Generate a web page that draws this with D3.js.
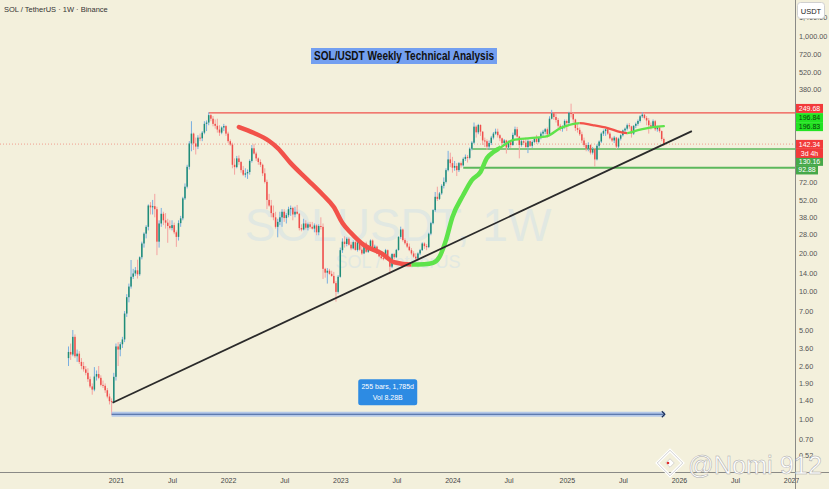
<!DOCTYPE html>
<html>
<head>
<meta charset="utf-8">
<script src="https://cdnjs.cloudflare.com/ajax/libs/d3/7.8.5/d3.min.js"></script>
<style>
  body { margin:0; background:#f3f0dc; }
  svg { display:block; font-family:"Liberation Sans", Arial, sans-serif; }
</style>
</head>
<body>
<svg id="chart" width="829" height="489"></svg>
<script>
// weekly candles [open, high, low, close], first bar is the week of 2020-08-03
const firstWeek = "2020-08-03";

const ohlc2020 = [
  [3.0,3.7,2.6,3.35],[3.35,3.9,2.9,3.2],[3.2,4.98,3.1,4.4],[4.4,4.6,3.0,3.1],[3.1,3.5,2.8,3.25],
  [3.25,3.4,2.7,2.8],[2.8,3.0,2.45,2.6],[2.6,2.8,2.35,2.45],[2.45,2.6,2.2,2.3],[2.3,2.5,1.95,2.05],
  [2.05,2.15,1.75,1.8],[1.8,1.9,1.55,1.7],[1.7,2.55,1.65,2.15],[2.15,2.4,2.0,2.25],[2.25,2.6,2.05,2.1],
  [2.1,2.2,1.8,1.85],[1.85,2.0,1.75,1.82],[1.82,1.9,1.6,1.68],[1.68,1.75,1.45,1.5],[1.5,1.58,1.3,1.38],
  [1.38,1.45,1.07,1.36],[1.36,2.3,1.33,2.14]
];
const ohlc2021 = [
  [2.14,3.9,2.0,3.7],[3.7,4.0,2.6,3.5],[3.5,4.0,3.1,3.85],[3.85,4.4,3.6,4.2],[4.2,7.0,4.0,6.7],
  [6.7,9.5,6.3,9.0],[9.0,11.5,8.2,10.9],[10.9,17.6,10.5,13.0],[13.0,15.0,12.5,13.8],[13.8,15.5,13.2,14.6],
  [14.6,17.7,12.6,13.6],[13.6,18.8,13.2,18.5],[18.5,24.5,17.8,23.7],[23.7,29,22,28.3],[28.3,33,26,32.0],
  [32.0,48,30,47.0],[47,50,40,45.5],[45.5,52,40,46.5],[46.5,58,38,44],[44,46,19.2,24.5],
  [24.5,36,22,34],[34,45,32,40.5],[40.5,42,33,36],[36,41,31,34.5],[34.5,37,24,32.5],
  [32.5,36,30.5,31.3],[31.3,36,30,33],[33,34.5,28,29],[29,30,22.3,26.7],[26.7,36,25,34.2],
  [34.2,39,32,37.3],[37.3,55,36,53.5],[53.5,70,52,66],[66,98,64,94.5],[94.5,150,90,144],
  [144,215,125,172],[172,175,128,144],[144,160,118,136],[136,167,130,160],[160,172,150,158],
  [158,180,150,175],[175,215,170,205],[205,218,180,210],[210,252,200,240],[240,250,215,225],
  [225,236,196,205],[205,222,188,198],[198,225,175,185],[185,200,165,175],[175,196,170,192],
  [192,205,180,197],[197,200,165,172]
];
const ohlc2022 = [
  [172,178,145,150],[150,155,138,141],[141,146,92,98],[98,110,82,94],[94,115,92,110],
  [110,116,98,103],[103,105,85,89],[89,96,80,82],[82,92,78,84],[84,90,76,86],
  [86,108,82,105],[105,140,102,132],[132,143,118,120],[120,124,105,110],[110,112,98,103],
  [103,108,94,98],[98,100,80,84],[84,92,70,72],[72,75,44,52],[52,58,46,47],
  [47,52,38,41],[41,47,36,38],[38,42,31,32],[32,37,26.5,35],[35,42,33,38],
  [38,44,32,42],[42,44,35,37.5],[37.5,41,34,39.5],[39.5,46,38,44],[44,47,39,45],
  [45,46,36,40],[40,46,38,42],[42,47.5,40,40.5],[40.5,41,30,31.3],[31.3,33.5,29.5,30.5],
  [30.5,37,30,34],[34,36,30.5,31.5],[31.5,34.5,30,33.5],[33.5,35,31,32],[32,35,30.5,31],
  [31,34,29,32.8],[32.8,33.5,27.5,29],[29,33.5,27.5,32.5],[32.5,38,30.5,32],[32,34,12.5,15],
  [15,15.3,12.8,14],[14,15.2,11.5,14.5],[14.5,15,13.5,13.7],[13.7,14.5,13,13.2],[13.2,14.2,11.4,11.6],
  [11.6,12.0,8.3,9.9],[9.9,13.4,9.6,13.0]
];
const ohlc2023 = [
  [13.0,22,12.8,21.0],[21,26,20,24.5],[24.5,27,22,23.5],[23.5,26.5,22.5,25.8],[25.8,26.5,22.8,23.2],
  [23.2,24.5,21,21.7],[21.7,25,21.3,24.3],[24.3,24.8,20.8,21.1],[21.1,24.8,20.5,24.2],[24.2,24.5,20.8,21.2],
  [21.2,22.8,19.3,19.8],[19.8,24,19.5,23.7],[23.7,24.5,20,20.4],[20.4,22.8,20,22.3],[22.3,25.5,21.5,25.0],
  [25,25.5,20.8,21.1],[21.1,23.2,20.5,22.4],[22.4,22.8,19.5,19.8],[19.8,21.2,18.5,18.8],[18.8,20.5,17.8,18.2],
  [18.2,19.9,17.5,18.1],[18.1,21.5,17.8,21.0],[21,21.3,17.6,18.1],[18.1,18.8,13.8,15.6],[15.6,19.9,15.2,19.6],
  [19.6,20,17.8,18.5],[18.5,21.5,18.2,21.1],[21.1,27,20.8,26.7],[26.7,32.1,25.8,30.5],[30.5,31,24.5,25.2],
  [25.2,26,23.2,23.8],[23.8,24.8,21.8,22.4],[22.4,23.7,20.6,21.0],[21,21.8,19.2,19.8],[19.8,20.6,18.3,18.7],
  [18.7,19.9,17.3,18.1],[18.1,20.2,17.8,19.8],[19.8,21.5,19.2,21.0],[21,24.2,20.8,23.7],[23.7,24.2,21.5,22.6],
  [22.6,23.5,21.0,22.2],[22.2,28.8,21.8,28.3],[28.3,35,27.5,34.2],[34.2,44,33.5,43.3],[43.3,60,42,55],
  [55,66,51,53],[53,60,52,58.5],[58.5,69,57,67],[67,78,64,72],[72,92,70,89],
  [89,126,87,108],[108,122,94,101]
];
const ohlc2024 = [
  [101,113,85,93],[93,105,88,96],[96,101,80,89],[89,103,86,101],[101,104,93,97],
  [97,112,95,109],[109,118,105,113],[113,117,102,111],[111,134,108,131],[131,150,127,146],
  [146,210,143,195],[195,200,160,176],[176,205,170,201],[201,203,165,178],[178,180,140,152],
  [152,160,135,150],[150,155,128,136],[136,152,130,145],[145,165,140,160],[160,177,155,172],
  [172,188,168,178],[178,188,160,167],[167,170,150,158],[158,160,140,145],[145,156,138,152],
  [152,154,120,134],[134,152,130,147],[147,152,133,140],[140,175,138,168],[168,195,165,186],
  [186,194,160,163],[163,165,110,140],[140,158,136,150],[150,156,140,146],[146,160,133,135],
  [135,155,121,150],[150,152,135,138],[138,152,133,148],[148,160,145,157],[157,168,143,148],
  [148,162,144,160],[160,178,155,172],[172,184,160,178],[178,190,170,186],[186,192,160,170],
  [170,235,165,225],[225,264,222,248],[248,250,220,232],[232,245,210,220],[220,228,190,198],
  [198,205,180,188],[188,200,178,195]
];
const ohlc2025 = [
  [195,222,188,216],[216,222,180,208],[208,255,200,250],[250,295,230,245],[245,252,210,222],
  [222,225,180,190],[190,205,175,184],[184,192,165,170],[170,178,145,152],[152,160,135,140],
  [140,145,125,131],[131,147,125,140],[140,142,118,122],[122,135,118,130],[130,133,95,108],
  [108,142,106,138],[138,152,133,149],[149,176,145,172],[172,185,165,180],[180,188,165,186],
  [186,190,168,172],[172,178,155,158],[158,162,148,152],[152,165,145,160],[160,162,130,136],
  [136,160,132,157],[157,170,152,167],[167,185,163,182],[182,192,175,188],[188,206,182,200],
  [200,208,188,196],[196,198,160,172],[172,200,168,198],[198,210,190,205],[205,222,198,216],
  [216,240,210,235],[235,253,228,242],[242,250,222,228],[228,236,200,218],[218,228,172,200],
  [200,210,185,195],[195,222,192,215],[215,220,180,186],[186,198,178,192],[192,196,175,180],
  [180,182,150,156],[156,160,138,142.34]
];

// moving average (red falling / green rising)
const maDates = ["2022-02-07","2022-03-28","2022-05-16","2022-06-13","2022-07-25","2022-09-19","2022-11-07","2022-12-12",
  "2023-01-09","2023-02-06","2023-03-20","2023-05-15","2023-06-26","2023-08-21","2023-10-02","2023-10-30","2023-11-20","2023-12-11",
  "2024-01-01","2024-02-05","2024-03-04","2024-04-01","2024-04-22","2024-05-13","2024-06-03","2024-07-15","2024-09-09","2024-11-04","2024-12-16",
  "2025-01-13","2025-02-17","2025-03-31","2025-05-19","2025-06-30","2025-07-21","2025-08-25","2025-10-13","2025-11-17"];
const maValues = [193.6,173.7,150.4,132.5,101,74.4,56.8,45.7,
  34.3,28.6,23.0,19.9,16.9,16.2,16.3,16.7,18.6,25.2,
  38.2,56.8,74.4,86,110.6,123.3,132.5,153,158.6,164.5,190,
  200.6,208,200.6,190,176.7,173.7,183.3,193.6,196.8];
const maThinFrom = "2024-06-03";

// drawn levels
const levelValues = [249.68, 130.16, 92.88];
const levelStarts = ["2021-11-01", "2024-03-04", "2024-02-05"];
const lastPrice = 142.34;
const trendDates = ["2020-12-24", "2026-02-16"];
const trendValues = [1.34, 180];
const measureDates = ["2020-12-21", "2025-11-17"];
const measurePrice = 1.09;
const measureText = ["255 bars, 1,785d", "Vol 8.28B"];

// axes
const priceTicks = [1400, 1000, 720, 520, 380, 72, 52, 38, 28, 20, 14, 10, 7, 5, 3.6, 2.6, 1.9, 1.4, 1, 0.7, 0.52];
const timeTicks = ["2021-01-04","2021-07-05","2022-01-03","2022-07-04","2023-01-02","2023-07-03","2024-01-01","2024-07-01","2025-01-06","2025-07-07","2026-01-05","2026-07-06","2027-01-04"];
const timeLabels = ["2021","Jul","2022","Jul","2023","Jul","2024","Jul","2025","Jul","2026","Jul","2027"];

// price tags on the right scale
const tagTexts = ["249.68", "196.84", "196.83", "142.34", "130.16", "92.88"];
const tagValues = [249.68, 196.84, 196.83, 142.34, 130.16, 92.88];

const W = 829, H = 489, paneW = 795, paneH = 472;
const parse = d3.utcParse("%Y-%m-%d");
const t0 = parse(firstWeek);

const candles = [].concat(ohlc2020, ohlc2021, ohlc2022, ohlc2023, ohlc2024, ohlc2025)
  .map((c, i) => ({date: d3.utcDay.offset(t0, 7 * i), o: c[0], h: c[1], l: c[2], c: c[3]}));

const x = d3.scaleUtc().domain([t0, parse("2027-01-04")]).range([68.5, 791.1]);
const y = d3.scaleLog().domain([1, 1000]).range([419, 36]);

const svg = d3.select("#chart");
const defs = svg.append("defs");
defs.append("clipPath").attr("id", "pane").append("rect").attr("width", paneW).attr("height", paneH);

svg.append("rect").attr("width", W).attr("height", H).attr("fill", "#f3f0dc");

const pane = svg.append("g").attr("clip-path", "url(#pane)");

// watermark
pane.append("text").attr("x", 398).attr("y", 241).attr("text-anchor", "middle")
  .attr("font-size", 46).attr("fill", "#dbe6e4").attr("opacity", 0.75).text("SOLUSDT, 1W");
pane.append("text").attr("x", 398).attr("y", 268).attr("text-anchor", "middle")
  .attr("font-size", 18).attr("fill", "#dbe6e4").attr("opacity", 0.75).text("SOL / TetherUS");

// current price dotted line
pane.append("line").attr("x1", 0).attr("x2", paneW).attr("y1", y(lastPrice)).attr("y2", y(lastPrice))
  .attr("stroke", "#f05a50").attr("stroke-opacity", 0.7).attr("stroke-width", 0.8).attr("stroke-dasharray", "1,2");

// horizontal levels
const levelColors = ["#f0524c", "#5cb85c", "#5cb85c"];
const levelWidths = [1.3, 1.5, 2.2];
levelValues.forEach((v, i) => {
  pane.append("line").attr("x1", x(parse(levelStarts[i]))).attr("x2", paneW)
    .attr("y1", y(v)).attr("y2", y(v))
    .attr("stroke", levelColors[i]).attr("stroke-width", levelWidths[i]);
});

// candles
const upBody = "#1f8d77", downBody = "#ef4f4b", upWick = "#78aee0", downWick = "#f4a3a0";
const bw = 1.5;
pane.append("g").selectAll("line").data(candles).join("line")
  .attr("x1", d => x(d.date)).attr("x2", d => x(d.date))
  .attr("y1", d => y(d.h)).attr("y2", d => y(d.l))
  .attr("stroke", d => d.c >= d.o ? upWick : downWick).attr("stroke-width", 1);
pane.append("g").selectAll("rect").data(candles).join("rect")
  .attr("x", d => x(d.date) - bw / 2).attr("width", bw)
  .attr("y", d => y(Math.max(d.o, d.c)))
  .attr("height", d => Math.max(1, Math.abs(y(d.o) - y(d.c))))
  .attr("fill", d => d.c >= d.o ? upBody : downBody);

// moving average, coloured by slope
const ma = maDates.map((d, i) => ({date: parse(d), v: maValues[i]}));
const thinFrom = parse(maThinFrom);
const maLine = d3.line().x(d => x(d.date)).y(d => y(d.v)).curve(d3.curveMonotoneX);
const runs = [];
for (let k = 0; k < ma.length - 1; k++) {
  const col = ma[k + 1].v >= ma[k].v ? "#5fe34a" : "#f2524a";
  const w = ma[k + 1].date <= thinFrom ? 4.5 : 2.3;
  const last = runs[runs.length - 1];
  if (last && last.col === col && last.w === w) last.end = ma[k + 1].date;
  else runs.push({col, w, start: ma[k].date, end: ma[k + 1].date});
}
runs.forEach((r, i) => {
  const x0 = x(r.start) - (i === 0 ? 3 : 0);
  defs.append("clipPath").attr("id", "ma" + i).append("rect")
    .attr("x", x0).attr("y", 0).attr("width", x(r.end) - x0 + (i === runs.length - 1 ? 3 : 0)).attr("height", paneH);
  pane.append("path").attr("d", maLine(ma)).attr("fill", "none")
    .attr("stroke", r.col).attr("stroke-width", r.w).attr("stroke-linecap", "round")
    .attr("clip-path", `url(#ma${i})`);
});

// trend line
pane.append("line")
  .attr("x1", x(parse(trendDates[0]))).attr("y1", y(trendValues[0]))
  .attr("x2", x(parse(trendDates[1]))).attr("y2", y(trendValues[1]))
  .attr("stroke", "#2a2a2a").attr("stroke-width", 1.8);

// date range measure
const mx0 = x(parse(measureDates[0])), mx1 = x(parse(measureDates[1])), my = y(measurePrice);
pane.append("rect").attr("x", mx0).attr("y", my - 2.5).attr("width", mx1 - mx0 + 1).attr("height", 5)
  .attr("fill", "#b4c8e8");
pane.append("line").attr("x1", mx0).attr("x2", mx1).attr("y1", my).attr("y2", my)
  .attr("stroke", "#40609c").attr("stroke-width", 1.1);
pane.append("path").attr("d", `M${mx1 - 2},${my - 3}L${mx1 + 1},${my}L${mx1 - 2},${my + 3}`)
  .attr("fill", "none").attr("stroke", "#1c2f55").attr("stroke-width", 1.2);
const mcx = (mx0 + mx1) / 2;
pane.append("rect").attr("x", mcx - 29.5).attr("y", my - 35).attr("width", 59).attr("height", 26)
  .attr("rx", 2.5).attr("fill", "#2d8be3");
measureText.forEach((t, i) => {
  pane.append("text").attr("x", mcx).attr("y", my - 25 + i * 11).attr("text-anchor", "middle")
    .attr("font-size", 7).attr("fill", "#ffffff").text(t);
});

// title box
svg.append("rect").attr("x", 311).attr("y", 48).attr("width", 186).attr("height", 16).attr("fill", "#739ff0");
svg.append("text").attr("x", 404).attr("y", 60).attr("text-anchor", "middle")
  .attr("font-size", 12).attr("font-weight", "bold").attr("fill", "#111")
  .attr("textLength", 180).attr("lengthAdjust", "spacingAndGlyphs")
  .text("SOL/USDT Weekly Technical Analysis");

svg.append("text").attr("x", 4).attr("y", 12).attr("font-size", 7.5).attr("fill", "#333")
  .text("SOL / TetherUS · 1W · Binance");

// axes lines
svg.append("line").attr("x1", paneW + 0.5).attr("x2", paneW + 0.5).attr("y1", 0).attr("y2", H)
  .attr("stroke", "#8a8a86").attr("stroke-width", 1);
svg.append("line").attr("x1", 0).attr("x2", W).attr("y1", paneH + 0.5).attr("y2", paneH + 0.5)
  .attr("stroke", "#8a8a86").attr("stroke-width", 1);

// price axis
const yAxis = svg.append("g").attr("transform", `translate(${paneW},0)`)
  .call(d3.axisRight(y).tickValues(priceTicks).tickFormat(d3.format(",.2f")).tickSize(0).tickPadding(4));
yAxis.select(".domain").remove();
yAxis.selectAll("text").attr("font-size", 7.3).attr("fill", "#555").attr("font-family", "Liberation Sans, Arial, sans-serif");

// time axis
defs.append("clipPath").attr("id", "taxis").append("rect").attr("x", 0).attr("y", paneH).attr("width", 799).attr("height", 20);
const xAxis = svg.append("g").attr("clip-path", "url(#taxis)").append("g").attr("transform", `translate(0,${paneH})`)
  .call(d3.axisBottom(x).tickValues(timeTicks.map(parse)).tickFormat((d, i) => timeLabels[i]).tickSize(0).tickPadding(6));
xAxis.select(".domain").remove();
xAxis.selectAll("text").attr("font-size", 7).attr("fill", "#444").attr("font-family", "Liberation Sans, Arial, sans-serif");

// USDT box
svg.append("rect").attr("x", 797.5).attr("y", 2.5).attr("width", 27).attr("height", 16).attr("rx", 3)
  .attr("fill", "#ffffff").attr("stroke", "#d0d0d0");
svg.append("text").attr("x", 811).attr("y", 13.5).attr("text-anchor", "middle").attr("font-size", 7.5).attr("fill", "#222").text("USDT");

// price tags
const tagFill = ["#f23a3a", "#22e322", "#22e322", "#f23a3a", "#45a849", "#45a849"];
const tagInk = ["#fff", "#0b3d0b", "#0b3d0b", "#fff", "#fff", "#fff"];
const tagShift = [-4.5, -8.5, 0.5, 0.3, 12.3, 2.2];
tagValues.forEach((v, i) => {
  const cy = y(v) + tagShift[i];
  svg.append("rect").attr("x", 796).attr("y", cy - 4.5).attr("width", i === 5 ? 22 : 27).attr("height", 9).attr("fill", tagFill[i]);
  svg.append("text").attr("x", 809.5 - (i === 5 ? 2.5 : 0)).attr("y", cy + 2.5).attr("text-anchor", "middle")
    .attr("font-size", 7).attr("fill", tagInk[i]).text(tagTexts[i]);
});
{
  const cy = y(lastPrice) + 9.3;
  svg.append("rect").attr("x", 796).attr("y", cy - 4.5).attr("width", 27).attr("height", 9).attr("fill", "#f23a3a");
  svg.append("text").attr("x", 809.5).attr("y", cy + 2.5).attr("text-anchor", "middle")
    .attr("font-size", 7).attr("fill", "#fff").text("3d 4h");
}

// author watermark
const logo = svg.append("g").attr("transform", "translate(670,463)");
logo.append("rect").attr("x", -9).attr("y", -9).attr("width", 18).attr("height", 18)
  .attr("transform", "rotate(45)").attr("fill", "none").attr("stroke", "#ffffff").attr("stroke-width", 3);
logo.append("rect").attr("x", -9).attr("y", -9).attr("width", 18).attr("height", 18)
  .attr("transform", "rotate(45)").attr("fill", "none").attr("stroke", "#b5b5b5").attr("stroke-width", 0.6);
logo.append("rect").attr("x", -3).attr("y", -3).attr("width", 6).attr("height", 6)
  .attr("transform", "rotate(45)").attr("fill", "#ffffff").attr("stroke", "#b5b5b5").attr("stroke-width", 0.5);
logo.append("circle").attr("cx", -2).attr("cy", 0).attr("r", 1.3).attr("fill", "#e0302a");
svg.append("text").attr("x", 688).attr("y", 474).attr("font-size", 26).attr("fill", "#ffffff")
  .attr("stroke", "#a8a8a8").attr("stroke-width", 0.5)
  .attr("textLength", 134).attr("lengthAdjust", "spacingAndGlyphs").text("@Nomi 912");
</script>
</body>
</html>
